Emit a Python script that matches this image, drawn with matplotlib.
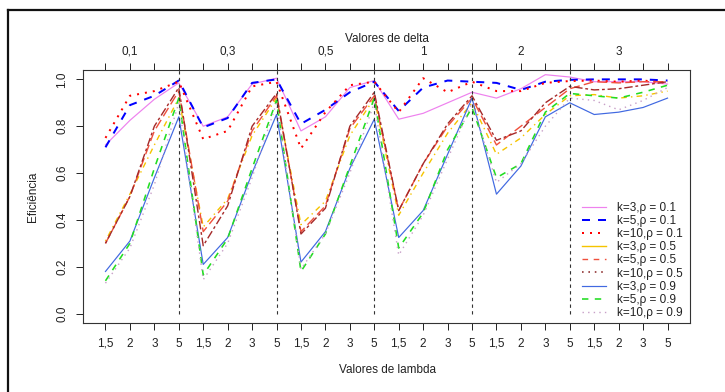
import numpy as np
import matplotlib
matplotlib.use('Agg')
import matplotlib.pyplot as plt
import matplotlib.transforms as mtransforms
from matplotlib.lines import Line2D

plt.rcParams['font.family'] = ['Liberation Sans', 'DejaVu Sans']

lambda_labels = ['1,5', '2', '3', '5'] * 6
delta_labels = ['0,1', '0,3', '0,5', '1', '2', '3']

k3_r01 = [0.72, 0.825, 0.915, 0.985, 0.80, 0.84, 0.98, 1.005, 0.78, 0.84, 0.965, 0.995,
          0.83, 0.855, 0.90, 0.945, 0.92, 0.96, 1.02, 1.01, 0.99, 0.99, 0.99, 0.98]
k5_r01 = [0.71, 0.89, 0.93, 0.995, 0.795, 0.835, 0.985, 1.0, 0.81, 0.87, 0.945, 0.99,
          0.865, 0.965, 0.995, 0.99, 0.985, 0.955, 0.99, 0.998, 1.0, 1.0, 1.0, 0.995]
k10_r01 = [0.75, 0.93, 0.95, 0.99, 0.745, 0.78, 0.97, 0.99, 0.705, 0.86, 0.975, 0.99,
           0.86, 1.005, 0.945, 0.99, 0.95, 0.95, 0.985, 0.993, 0.995, 0.99, 0.995, 0.985]
k3_r05 = [0.31, 0.51, 0.72, 0.92, 0.37, 0.49, 0.76, 0.92, 0.38, 0.48, 0.76, 0.92,
          0.42, 0.60, 0.77, 0.90, 0.68, 0.75, 0.85, 0.93, 0.935, 0.92, 0.93, 0.95]
k5_r05 = [0.30, 0.50, 0.78, 0.95, 0.35, 0.48, 0.78, 0.93, 0.35, 0.46, 0.79, 0.93,
          0.44, 0.64, 0.80, 0.92, 0.72, 0.80, 0.88, 0.96, 0.99, 0.985, 0.99, 0.99]
k10_r05 = [0.30, 0.50, 0.80, 0.965, 0.29, 0.46, 0.80, 0.94, 0.34, 0.45, 0.80, 0.945,
           0.44, 0.64, 0.81, 0.93, 0.74, 0.78, 0.90, 0.97, 0.955, 0.96, 0.975, 0.99]
k3_r09 = [0.18, 0.31, 0.58, 0.84, 0.21, 0.325, 0.60, 0.85, 0.22, 0.35, 0.62, 0.83,
          0.325, 0.44, 0.68, 0.92, 0.51, 0.63, 0.84, 0.90, 0.85, 0.86, 0.88, 0.92]
k5_r09 = [0.14, 0.30, 0.62, 0.92, 0.165, 0.32, 0.62, 0.91, 0.18, 0.34, 0.63, 0.92,
          0.28, 0.43, 0.70, 0.88, 0.58, 0.64, 0.86, 0.94, 0.93, 0.92, 0.945, 0.975]
k10_r09 = [0.13, 0.28, 0.55, 0.90, 0.145, 0.30, 0.58, 0.90, 0.19, 0.34, 0.60, 0.90,
           0.25, 0.42, 0.66, 0.90, 0.56, 0.64, 0.80, 0.92, 0.91, 0.87, 0.91, 0.965]

x = np.arange(1, len(lambda_labels) + 1)
txt = '#222222'

fig = plt.figure(figsize=(7.25, 3.92), dpi=100)
ax = fig.add_axes([83 / 725, 1 - 323 / 392, 607 / 725, 253 / 392])

# (data, color, linestyle, width) for plot; legend uses its own styles
series = [
    (k3_r01, '#EE82EE', '-', 1.2),
    (k5_r01, '#0000FF', (0, (4, 4)), 2.0),
    (k10_r01, '#FF0000', (0, (1, 3)), 2.0),
    (k3_r05, '#F5C400', (0, (1, 3, 4, 3)), 1.4),
    (k5_r05, '#F0503C', (0, (7, 3)), 1.4),
    (k10_r05, '#A52A2A', (0, (2, 2, 6, 2)), 1.4),
    (k3_r09, '#4169E1', '-', 1.2),
    (k5_r09, '#22DD22', (0, (4, 4)), 1.6),
    (k10_r09, '#C8A0C8', (0, (1, 3)), 1.4),
]
for y, c, ls, lw in series:
    ax.plot(x, y, color=c, linestyle=ls, linewidth=lw * 0.72)

# group separators
for v in x[3:-4:4]:
    ax.plot([v, v], [0, 1.04], color='#333333', linestyle=(0, (3, 3)), linewidth=0.8)

ax.set_xlim(0.08, 24.92)
ax.set_ylim(-0.04, 1.04)
ax.set_xticks(x, lambda_labels)
ax.set_yticks([0, 0.2, 0.4, 0.6, 0.8, 1.0], ['0.0', '0.2', '0.4', '0.6', '0.8', '1.0'])
for lab in ax.get_yticklabels():
    lab.set_rotation(90)
    lab.set_va('center')
ax.tick_params(axis='x', top=True, length=5, width=0.7, pad=5.5, labelsize=8.5, colors=txt)
ax.tick_params(axis='y', length=5, width=0.7, pad=5.5, labelsize=8.5, colors=txt)
for s in ax.spines.values():
    s.set_linewidth(0.8)
    s.set_color('#333333')

top_tr = mtransforms.blended_transform_factory(ax.transData, fig.transFigure)
for i, lab in enumerate(delta_labels):
    ax.text(x[4 * i + 1], 1 - 52 / 392, lab, transform=top_tr,
            ha='center', va='center', fontsize=8.5, color=txt)
fig.text(387 / 725, 1 - 39 / 392, 'Valores de delta', ha='center', va='center', fontsize=8.5, color=txt)
fig.text(387 / 725, 1 - 370 / 392, 'Valores de lambda', ha='center', va='center', fontsize=8.5, color=txt)
fig.text(33 / 725, 1 - 197 / 392, 'Eficiência', ha='center', va='center', rotation=90, fontsize=8.5, color=txt)

leg_styles = [
    ('#EE82EE', '-', 1.2), ('#0000FF', (0, (4, 4)), 2.0), ('#FF0000', (0, (1, 3)), 2.0),
    ('#F5C400', '-', 1.4), ('#F0503C', (0, (4, 4)), 1.4), ('#8B2A2A', (0, (1, 3)), 1.6),
    ('#4169E1', '-', 1.2), ('#22DD22', (0, (4, 4)), 1.6), ('#C8A0C8', (0, (1, 3)), 1.4),
]
leg_labels = ['k=3,\u03c1 = 0.1', 'k=5,\u03c1 = 0.1', 'k=10,\u03c1 = 0.1',
              'k=3,\u03c1 = 0.5', 'k=5,\u03c1 = 0.5', 'k=10,\u03c1 = 0.5',
              'k=3,\u03c1 = 0.9', 'k=5,\u03c1 = 0.9', 'k=10,\u03c1 = 0.9']
handles = [Line2D([], [], color=c, linestyle=ls, linewidth=lw * 0.72) for c, ls, lw in leg_styles]
ax.legend(handles, leg_labels, loc='lower left', bbox_to_anchor=(0.813, -0.008), frameon=False,
          fontsize=8.5, labelspacing=0.1, handlelength=2.0, handletextpad=0.9, borderpad=0,
          labelcolor=txt)

# outer frame (left and top edges visible)
fig.add_artist(Line2D([8 / 725, 8 / 725], [0, 1 - 10 / 392], color='#111111', linewidth=1.6))
fig.add_artist(Line2D([8 / 725, 1], [1 - 10 / 392, 1 - 10 / 392], color='#111111', linewidth=1.6))

fig.savefig('out.png', dpi=100)
